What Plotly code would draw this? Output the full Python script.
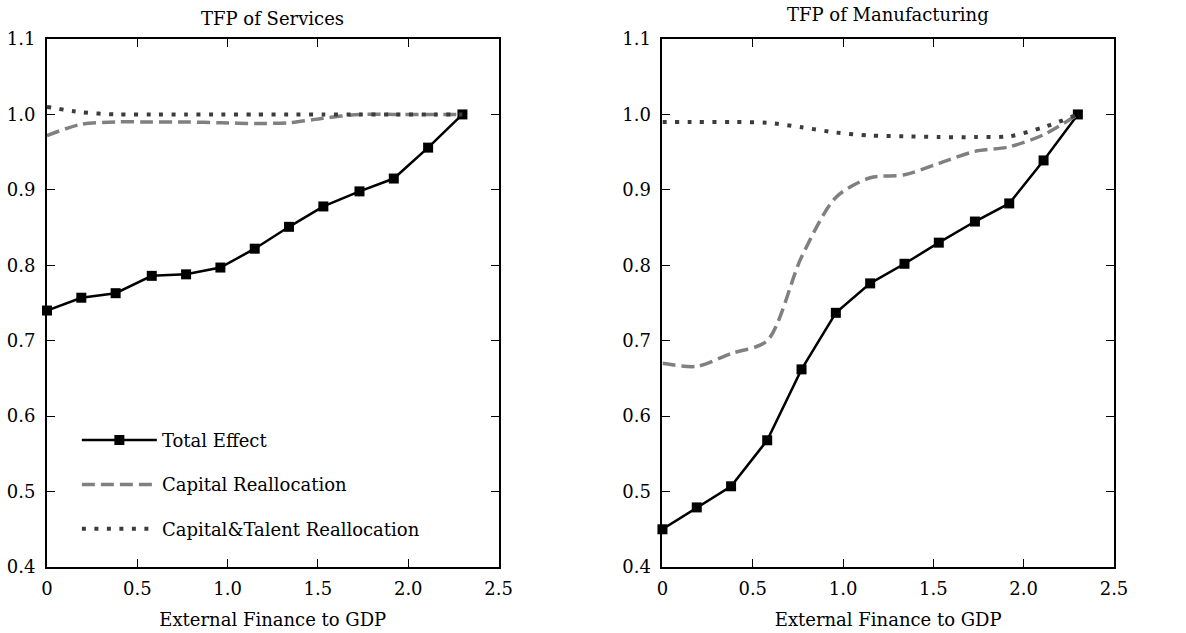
import plotly.graph_objects as go
from plotly.subplots import make_subplots

# external finance to GDP (x positions of the model points)
ext_fin = [0, 0.19, 0.38, 0.58, 0.77, 0.96, 1.15, 1.34, 1.53, 1.73, 1.92, 2.11, 2.3]

# TFP of services
svc_total = [0.740, 0.757, 0.763, 0.786, 0.788, 0.797, 0.822, 0.851, 0.878, 0.898, 0.915, 0.956, 1.0]
svc_capital = [0.972, 0.987, 0.990, 0.990, 0.990, 0.989, 0.988, 0.989, 0.995, 1.0, 1.0, 1.0, 1.0]
svc_cap_talent = [1.010, 1.003, 1.0, 1.0, 1.0, 1.0, 1.0, 1.0, 1.0, 1.0, 1.0, 1.0, 1.0]

# TFP of manufacturing
mfg_total = [0.450, 0.479, 0.507, 0.568, 0.662, 0.737, 0.776, 0.802, 0.830, 0.858, 0.882, 0.939, 1.0]
mfg_capital = [0.670, 0.666, 0.683, 0.700, 0.811, 0.890, 0.916, 0.920, 0.935, 0.951, 0.957, 0.973, 1.0]
mfg_cap_talent = [0.990, 0.990, 0.990, 0.989, 0.983, 0.976, 0.972, 0.971, 0.970, 0.970, 0.971, 0.983, 1.0]

x_ticks = [0, 0.5, 1.0, 1.5, 2.0, 2.5]
x_ticklabels = ["0", "0.5", "1.0", "1.5", "2.0", "2.5"]
y_ticks = [0.4, 0.5, 0.6, 0.7, 0.8, 0.9, 1.0, 1.1]

FONT = "DejaVu Serif"
FSIZE = 18

fig = make_subplots(rows=1, cols=2, horizontal_spacing=0.1536)

panels = [
    (1, svc_total, svc_capital, svc_cap_talent, True),
    (2, mfg_total, mfg_capital, mfg_cap_talent, False),
]

for col, total, capital, cap_talent, show in panels:
    fig.add_hline(y=1.0, line=dict(color="black", width=1), row=1, col=col)

    fig.add_trace(go.Scatter(
        x=ext_fin, y=total, name="Total Effect",
        mode="lines+markers",
        line=dict(color="black", width=2.5),
        marker=dict(symbol="square", size=10, color="black"),
        cliponaxis=False, showlegend=show, legendgroup="a",
    ), row=1, col=col)

    fig.add_trace(go.Scatter(
        x=ext_fin, y=capital, name="Capital Reallocation",
        mode="lines",
        line=dict(color="#808080", width=3.5, dash="13px,6px", shape="spline", smoothing=0.8),
        showlegend=show, legendgroup="b",
    ), row=1, col=col)

    fig.add_trace(go.Scatter(
        x=ext_fin, y=cap_talent, name="Capital&Talent Reallocation",
        mode="lines",
        line=dict(color="#3c3c3c", width=4, dash="4px,8.5px", shape="spline", smoothing=0.8),
        showlegend=show, legendgroup="c",
    ), row=1, col=col)

axis_style = dict(
    showline=True, linecolor="black", linewidth=2, mirror="ticks",
    ticks="inside", ticklen=8, tickwidth=1.2, tickcolor="black",
    showgrid=False, zeroline=False, automargin=False,
    tickfont=dict(family=FONT, size=FSIZE, color="black"),
)

fig.update_xaxes(range=[0, 2.5], tickvals=x_ticks, ticktext=x_ticklabels, ticklabelstandoff=4,
                 title=dict(text="External Finance to GDP", font=dict(family=FONT, size=FSIZE, color="black"), standoff=16),
                 **axis_style)
fig.update_yaxes(range=[0.4, 1.1], tickvals=y_ticks, tickformat=".1f", ticklabelstandoff=6, **axis_style)

fig.add_annotation(text="TFP of Services", xref="x domain", yref="paper", x=0.5, y=1.0,
                   yanchor="middle", yshift=21,
                   showarrow=False, font=dict(family=FONT, size=FSIZE, color="black"))
fig.add_annotation(text="TFP of Manufacturing", xref="x2 domain", yref="paper", x=0.5, y=1.0,
                   yanchor="middle", yshift=25,
                   showarrow=False, font=dict(family=FONT, size=FSIZE, color="black"))

fig.update_layout(
    width=1186, height=633,
    margin=dict(l=47, r=72, t=39, b=66),
    paper_bgcolor="white", plot_bgcolor="white",
    font=dict(family=FONT, size=FSIZE, color="black"),
    showlegend=True,
    legend=dict(x=0.028, y=0.275, xanchor="left", yanchor="top",
                bgcolor="rgba(0,0,0,0)", itemwidth=75, tracegroupgap=18,
                font=dict(family=FONT, size=FSIZE, color="black")),
)

# page body has a default 8px margin; drop it so the figure sits at the window origin
fig.write_html("out.html", config={"displayModeBar": False},
               post_script="document.body.style.margin='0px';")
